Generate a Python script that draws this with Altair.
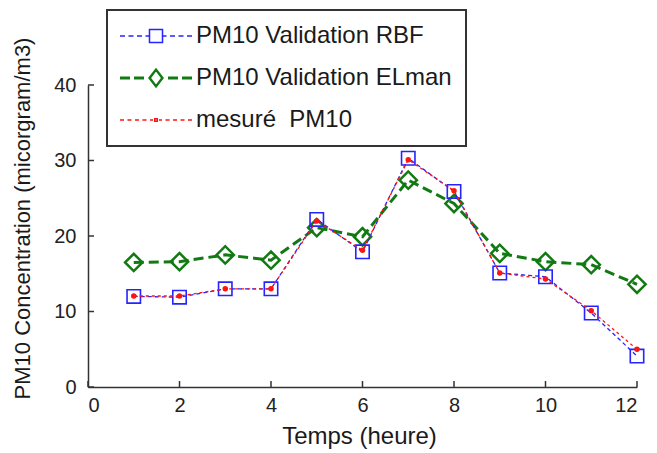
import altair as alt
import pandas as pd
import math

hours = [1, 2, 3, 4, 5, 6, 7, 8, 9, 10, 11, 12]
rbf = [12.0, 11.9, 13.0, 13.0, 22.2, 17.9, 30.3, 25.9, 15.1, 14.6, 9.8, 4.1]
elman = [16.5, 16.6, 17.5, 16.8, 21.1, 19.9, 27.4, 24.3, 17.7, 16.6, 16.2, 13.6]
mesure = [12.05, 12.05, 13.0, 13.0, 22.0, 18.1, 30.1, 26.0, 15.1, 14.3, 10.1, 5.0]

series_names = ["PM10 Validation RBF", "PM10 Validation ELman", "mesuré\u00a0\u00a0PM10"]
colors = ["#2424ff", "#127a12", "#ff1414"]

x_ticks = [0, 2, 4, 6, 8, 10, 12]
y_ticks = [0, 10, 20, 30, 40]

rows = []
for name, vals in zip(series_names, [rbf, elman, mesure]):
    for h, v in zip(hours, vals):
        rows.append({"t": h, "v": v, "serie": name})
df = pd.DataFrame(rows)
xt_df = pd.DataFrame({"t": x_ticks})
yt_df = pd.DataFrame({"v": y_ticks})

FONT = "Liberation Sans"
W, H = 549, 302

# ---- legend symbol paths (style only) ----
SYM_SIZE = 100
S = math.sqrt(SYM_SIZE) / 2.0


def u(p):
    return f"{p / S:.3f}"


def mirrored(x0, x1, dash, gap, y=0.0):
    out = []
    x = x0
    while x < x1 - 0.5:
        e = min(x + dash, x1)
        out.append(f"M{u(x)},{u(y)}H{u(e)}")
        out.append(f"M{u(-e)},{u(y)}H{u(-x)}")
        x = e + gap
    return out


blue_path = "".join(mirrored(-36, -7, 5, 3.5)) + (
    f"M{u(-6.5)},{u(-6.5)}H{u(6.5)}V{u(6.5)}H{u(-6.5)}Z"
)
green_parts = mirrored(-36, -8, 10, 4, -0.7) + mirrored(-36, -8, 10, 4, 0.7)
green_path = "".join(green_parts) + (
    f"M{u(-7)},0L0,{u(-9)}L{u(7)},0L0,{u(9)}Z"
    f"M{u(-5.8)},0L0,{u(-7.6)}L{u(5.8)},0L0,{u(7.6)}Z"
)
red_path = "".join(mirrored(-36, -3, 4, 3.5)) + (
    f"M{u(-1.3)},{u(-1.3)}H{u(1.3)}V{u(1.3)}H{u(-1.3)}Z"
)
shape_range = [blue_path, green_path, red_path]

x_scale = alt.Scale(domain=[0, 12], nice=False)
y_scale = alt.Scale(domain=[0, 40], nice=False)

main_x_axis = alt.Axis(
    values=x_ticks, orient="bottom", ticks=False, grid=False,
    domainColor="#333333", domainWidth=1.5,
    labelFont=FONT, labelFontSize=20, labelColor="#222222", labelPadding=8,
    title="Temps (heure)", titleFont=FONT, titleFontSize=24, titleFontWeight="normal",
    titleColor="#1a1a1a", titleX=271, titleY=49, titleAnchor="middle",
    titleAlign="center", titleBaseline="middle",
)
main_y_axis = alt.Axis(
    values=y_ticks, orient="left", ticks=False, grid=False,
    domainColor="#333333", domainWidth=1.5,
    labelFont=FONT, labelFontSize=20, labelColor="#222222", labelPadding=12,
    title="PM10 Concentration (micorgram/m3)", titleFont=FONT, titleFontSize=22,
    titleFontWeight="normal", titleColor="#1a1a1a", titleX=-66, titleY=133,
    titleAngle=270, titleAlign="center", titleBaseline="middle",
)

base = alt.Chart(df)


def line_layer(name, color, dash, width, xa=None, ya=None):
    return base.transform_filter(alt.datum.serie == name).mark_line(
        color=color, strokeDash=dash, strokeWidth=width
    ).encode(
        x=alt.X("t:Q", scale=x_scale, axis=xa),
        y=alt.Y("v:Q", scale=y_scale, axis=ya),
    )


def point_layer(name, color, shape, size, width, filled=False):
    return base.transform_filter(alt.datum.serie == name).mark_point(
        shape=shape, size=size, strokeWidth=width, color=color, filled=filled,
        opacity=1,
    ).encode(
        x=alt.X("t:Q", scale=x_scale, axis=None),
        y=alt.Y("v:Q", scale=y_scale, axis=None),
    )


green_line = line_layer(series_names[1], colors[1], [10, 5], 3,
                        xa=main_x_axis, ya=main_y_axis)
green_pts = point_layer(series_names[1], colors[1], "diamond", 300, 2.5)
blue_line = line_layer(series_names[0], colors[0], [4, 3], 1.3)
blue_pts = point_layer(series_names[0], colors[0], "square", 180, 1.6)
red_line = line_layer(series_names[2], colors[2], [3, 3], 1.3)
red_pts = point_layer(series_names[2], colors[2], "circle", 30, 0, filled=True)

# inward tick marks (MATLAB style)
x_inticks = alt.Chart(xt_df).mark_tick(
    color="#333333", thickness=1.5, size=6, orient="vertical", opacity=1
).encode(
    x=alt.X("t:Q", scale=x_scale, axis=None),
    y=alt.value(H - 3),
)
y_inticks = alt.Chart(yt_df).mark_tick(
    color="#333333", thickness=1.5, size=6, orient="horizontal", opacity=1
).encode(
    y=alt.Y("v:Q", scale=y_scale, axis=None),
    x=alt.value(3),
)

legend = alt.Legend(
    title=None, orient="none", legendX=19, legendY=-75, direction="vertical",
    fillColor="white", strokeColor="#333333", padding=14, rowPadding=18,
    labelFont=FONT, labelFontSize=24, labelColor="#1a1a1a", labelLimit=400,
    symbolSize=SYM_SIZE, symbolStrokeWidth=1.5, symbolFillColor="transparent",
    symbolOffset=23, labelOffset=28, symbolOpacity=1,
)

legend_layer = base.transform_filter("false").mark_point(filled=False).encode(
    x=alt.X("t:Q", scale=x_scale, axis=None),
    y=alt.Y("v:Q", scale=y_scale, axis=None),
    color=alt.Color("serie:N", scale=alt.Scale(domain=series_names, range=colors),
                    legend=legend),
    shape=alt.Shape("serie:N", scale=alt.Scale(domain=series_names, range=shape_range),
                    legend=legend),
)

chart = alt.layer(
    green_line, x_inticks, y_inticks,
    green_pts, blue_line, blue_pts, red_line, red_pts, legend_layer
).resolve_axis(x="independent", y="independent").properties(
    width=W, height=H,
    background="white",
    autosize=alt.AutoSizeParams(type="none"),
    padding={"left": 80, "top": 77, "right": 12, "bottom": 66},
).configure_view(strokeWidth=0, stroke="transparent")

try:
    c2 = chart.configure_legend(strokeWidth=2)
    c2.to_dict()
    chart = c2
except Exception:
    pass

chart.save("out.html", embed_options={"renderer": "svg", "actions": False})
